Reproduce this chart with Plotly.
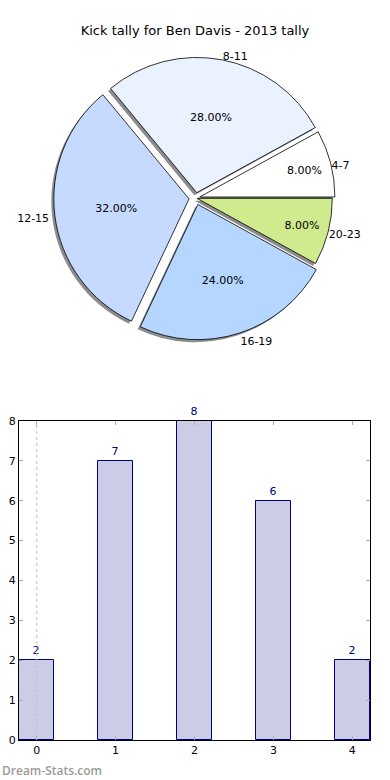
import plotly.graph_objects as go

# ---- data ----
pie_labels = ["4-7", "8-11", "12-15", "16-19", "20-23"]
pie_values = [2, 7, 8, 6, 2]
pie_colors = ["#ffffff", "#eaf1ff", "#c6d9ff", "#b4d6ff", "#d0eb8d"]
pie_pull = [0.03, 0.04, 0.05, 0.05, 0.01]

bar_x = [0, 1, 2, 3, 4]
bar_values = [2, 7, 8, 6, 2]
bar_ticks = ["0", "1", "2", "3", "4"]

title_text = "Kick tally for Ben Davis - 2013 tally"
FONT = "DejaVu Sans"

W, H = 390, 780
ML, MR, MT, MB = 19, 20, 0, 40
pw = W - ML - MR
ph = H - MT - MB

def px_x(p):
    return (p - ML) / pw

def px_y(p):
    return (H - MB - p) / ph

pie_top, pie_bot = 56, 340
sdx, sdy = 2.5, 2.5  # shadow offset: left and down
d = sdx / pw
rot = 90 - 360 * pie_values[0] / sum(pie_values)

fig = go.Figure()

# shadow pie (also carries outside labels)
fig.add_trace(go.Pie(
    labels=pie_labels, values=pie_values, sort=False, direction="counterclockwise",
    rotation=rot, pull=pie_pull,
    marker=dict(colors=["#8c8c8c"] * 5, line=dict(width=0)),
    textinfo="label", textposition="outside",
    textfont=dict(family=FONT, size=11, color="#000000"),
    domain=dict(x=[0, 1 - d], y=[px_y(pie_bot + sdy), px_y(pie_top + sdy)]),
    showlegend=False, hoverinfo="skip",
))

# main pie
fig.add_trace(go.Pie(
    labels=pie_labels, values=pie_values, sort=False, direction="counterclockwise",
    rotation=rot, pull=pie_pull,
    marker=dict(colors=pie_colors, line=dict(width=0.8, color="#000000")),
    texttemplate="%{percent:.2%}", textposition="inside", insidetextorientation="horizontal",
    textfont=dict(family=FONT, size=11, color="#000000"),
    domain=dict(x=[d, 1], y=[px_y(pie_bot), px_y(pie_top)]),
    showlegend=False,
))

# bar chart
fig.add_trace(go.Bar(
    x=bar_x, y=bar_values, width=0.45,
    marker=dict(color="#ccccE6", line=dict(color="#000080", width=1)),
    text=[str(v) for v in bar_values], textposition="outside", cliponaxis=False,
    textfont=dict(family=FONT, size=11, color="#000080"),
    xaxis="x", yaxis="y", showlegend=False,
))

fig.update_layout(
    width=W, height=H,
    margin=dict(l=ML, r=MR, t=MT, b=MB, autoexpand=False),
    paper_bgcolor="white", plot_bgcolor="white",
    font=dict(family=FONT, size=11, color="#000000"),
    title=dict(text=title_text, x=0.5, xanchor="center", y=1 - 30 / H, yanchor="middle",
               font=dict(family=FONT, size=13, color="#000000")),
    xaxis=dict(domain=[0, 1], range=[-0.225, 4.225], tickvals=bar_x, ticktext=bar_ticks,
               ticks="inside", ticklen=4, tickcolor="#aaaaaa", showgrid=False, zeroline=False,
               showline=True, linecolor="#000000", linewidth=1, mirror="allticks",
               automargin=False, tickfont=dict(family=FONT, size=11)),
    yaxis=dict(domain=[0, px_y(421)], range=[0, 8], dtick=1,
               ticks="inside", ticklen=4, tickcolor="#aaaaaa", showgrid=False, zeroline=False,
               showline=True, linecolor="#000000", linewidth=1, mirror="allticks",
               automargin=False, tickfont=dict(family=FONT, size=11)),
    bargap=0,
    shapes=[dict(type="line", xref="x", yref="y domain", x0=0, x1=0, y0=0, y1=1,
                 line=dict(color="#c0c0c0", width=1, dash="dot"), layer="above")],
    annotations=[dict(text="Dream-Stats.com", xref="paper", yref="paper",
                      x=-ML / pw, y=px_y(770), xanchor="left", yanchor="middle", showarrow=False,
                      font=dict(family="Open Sans", size=12, color="#9a9a9a", weight=600))],
)

fig.write_html("out.html", config={"displayModeBar": False},
               post_script="document.body.style.margin='0';")
